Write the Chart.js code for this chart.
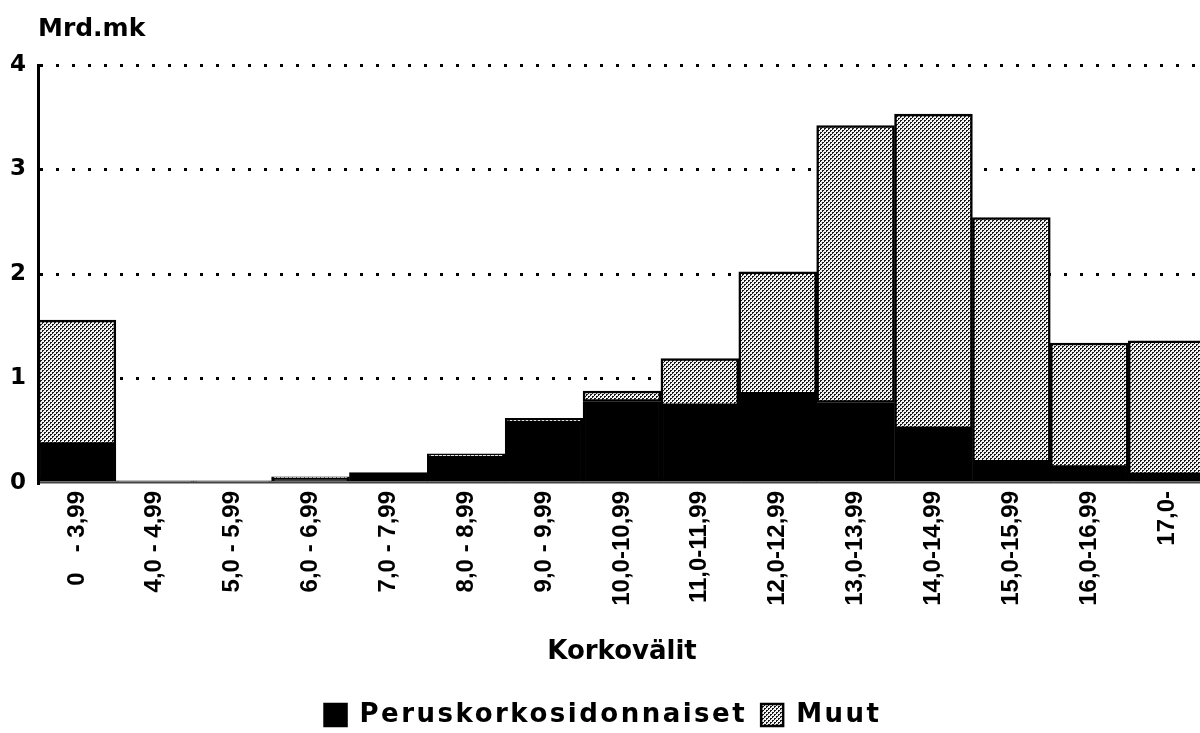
<!DOCTYPE html>
<html>
<head>
<meta charset="utf-8">
<script src="https://cdn.jsdelivr.net/npm/chart.js@4.4.1/dist/chart.umd.min.js"></script>
<style>
  html, body { margin: 0; padding: 0; background: #fff; overflow: hidden; }
  #wrap { width: 1206px; height: 738px; }
</style>
</head>
<body>
<div id="wrap"><canvas id="c" width="1206" height="738"></canvas></div>
<script>
const categories = ["0   - 3,99", "4,0 - 4,99", "5,0 - 5,99", "6,0 - 6,99", "7,0 - 7,99", "8,0 - 8,99", "9,0 - 9,99",
  "10,0-10,99", "11,0-11,99", "12,0-12,99", "13,0-13,99", "14,0-14,99", "15,0-15,99", "16,0-16,99", "17,0-"];
const peruskorko = [0.37, 0.02, 0.02, 0.04, 0.10, 0.25, 0.58, 0.78, 0.74, 0.85, 0.77, 0.52, 0.20, 0.15, 0.08];
const muut       = [1.19, 0.00, 0.00, 0.02, 0.00, 0.03, 0.04, 0.10, 0.45, 1.17, 2.65, 3.01, 2.34, 1.19, 1.28];
const yTicks = [0, 1, 2, 3, 4];
const yUnit = "Mrd.mk";
const xTitle = "Korkovälit";
const seriesNames = ["Peruskorkosidonnaiset", "Muut"];

function makePattern() {
  const p = document.createElement('canvas');
  p.width = 4; p.height = 4;
  const g = p.getContext('2d');
  g.fillStyle = '#f2f2f2';
  g.fillRect(0, 0, 4, 4);
  g.fillStyle = '#1a1a1a';
  [[0,0],[1,0],[0,1],[2,2],[3,2],[2,3]].forEach(([x,y]) => g.fillRect(x, y, 1, 1));
  return document.getElementById('c').getContext('2d').createPattern(p, 'repeat');
}
const pattern = makePattern();

const TFONT = "'DejaVu Sans', 'Liberation Sans', Arial, sans-serif";
const NFONT = "'Liberation Sans', Arial, Helvetica, sans-serif";

const unitPlugin = {
  id: 'unitLabel',
  afterDraw(chart) {
    const ctx = chart.ctx;
    ctx.save();
    ctx.font = "bold 25px " + TFONT;
    ctx.fillStyle = '#000';
    ctx.textBaseline = 'alphabetic';
    ctx.textAlign = 'left';
    ctx.fillText(yUnit, chart.chartArea.left, 36);
    ctx.restore();
  }
};

const chart = new Chart(document.getElementById('c'), {
  type: 'bar',
  data: {
    labels: categories,
    datasets: [
      { label: seriesNames[0], data: peruskorko, backgroundColor: '#000', borderColor: '#000', borderWidth: 2.5, borderSkipped: false },
      { label: seriesNames[1], data: muut, backgroundColor: pattern, borderColor: '#000', borderWidth: 2.5, borderSkipped: false }
    ]
  },
  options: {
    responsive: false,
    animation: false,
    devicePixelRatio: 1,
    layout: { padding: { top: 65, left: 0, right: 0, bottom: 0 } },
    datasets: { bar: { categoryPercentage: 1, barPercentage: 1 } },
    plugins: {
      tooltip: { enabled: false },
      legend: {
        position: 'bottom',
        labels: {
          color: '#000',
          font: { family: TFONT, size: 26, weight: 'bold' },
          boxWidth: 22, boxHeight: 22, padding: 14,
          useBorderRadius: false
        }
      }
    },
    scales: {
      x: {
        stacked: true,
        grid: { display: false, drawTicks: false },
        border: { display: true, color: '#444', width: 1.5 },
        ticks: {
          color: '#000', font: { family: NFONT, size: 24, weight: 'bold' },
          maxRotation: 90, minRotation: 90, padding: 8, autoSkip: false
        },
        title: { display: true, text: xTitle, color: '#000', font: { family: TFONT, size: 26, weight: 'bold' }, padding: { top: 4, bottom: 20 } },
        afterFit(s) { s.height = 205; }
      },
      y: {
        stacked: true,
        min: 0, max: 4,
        afterBuildTicks(s) { s.ticks = yTicks.map(v => ({ value: v })); },
        grid: {
          drawTicks: false,
          color: c => (c.tick && c.tick.value === 0) ? 'rgba(0,0,0,0)' : '#000',
          lineWidth: 3
        },
        border: { display: true, color: '#000', width: 3, dash: [3, 13] },
        ticks: { color: '#000', font: { family: TFONT, size: 23, weight: 'bold' }, padding: 12 },
        afterFit(s) { s.width = 38; }
      }
    }
  },
  plugins: [unitPlugin]
});

// widen legend text tracking to match the printed original
(function () {
  const lg = chart.legend;
  if (!lg) return;
  const fit0 = lg.fit.bind(lg), draw0 = lg.draw.bind(lg);
  const wrap = (fn) => function () {
    const c = lg.ctx;
    const prev = c.letterSpacing;
    try { c.letterSpacing = '2.5px'; } catch (e) {}
    const r = fn.apply(null, arguments);
    try { c.letterSpacing = prev || '0px'; } catch (e) {}
    return r;
  };
  lg.fit = wrap(fit0);
  lg.draw = wrap(draw0);
  chart.update();
})();
</script>
</body>
</html>
